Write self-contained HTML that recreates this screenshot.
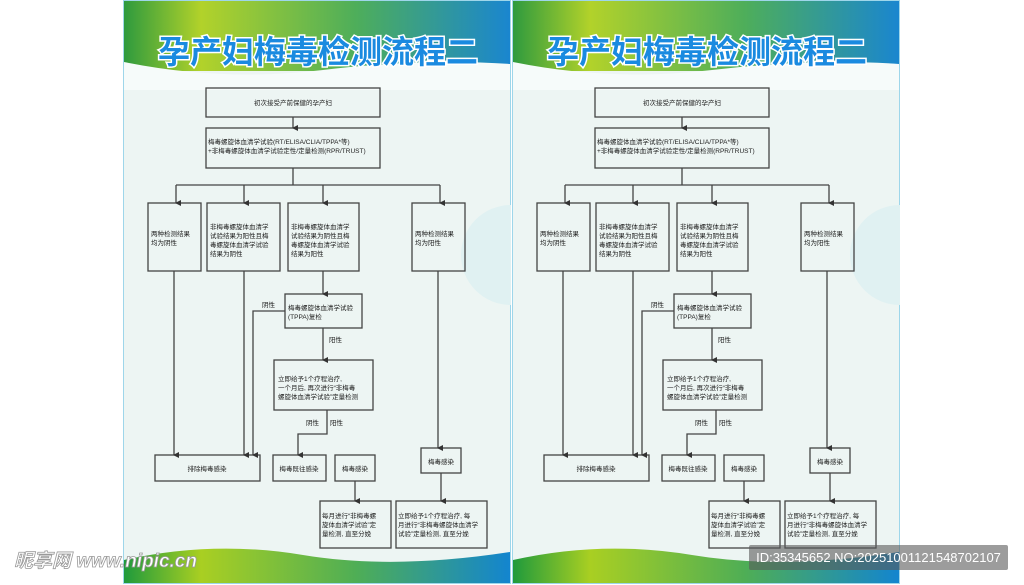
<!DOCTYPE html>
<html><head><meta charset="utf-8"><style>
html,body{margin:0;padding:0;background:#fff;width:1024px;height:585px;overflow:hidden;position:relative;font-family:"Liberation Sans","Noto Sans CJK SC",sans-serif}
.p{position:absolute;top:0;width:388px;height:584px}
svg text{font-family:"Liberation Sans","Noto Sans CJK SC",sans-serif}
.wm{position:absolute;left:14px;top:546px;font-size:19px;font-weight:bold;font-style:italic;color:#fff;-webkit-text-stroke:0.8px #999;white-space:nowrap}
.id{position:absolute;left:749px;top:545px;width:259px;height:25px;background:rgba(90,90,90,.6);color:#fff;font-size:13px;line-height:25px;text-align:center;border-radius:2px;white-space:nowrap;overflow:hidden}
</style></head><body>
<div class="p" style="left:123px">
<svg width="388" height="584" viewBox="0 0 388 584">
<defs>
<linearGradient id="hg" x1="0" x2="1"><stop offset="0" stop-color="#2e9a3e"/><stop offset=".2" stop-color="#b2d22a"/><stop offset=".6" stop-color="#4eae5a"/><stop offset="1" stop-color="#1a86cf"/></linearGradient>
<linearGradient id="bg" x1="0" x2="1"><stop offset="0" stop-color="#1f9a3c"/><stop offset=".2" stop-color="#a9cf22"/><stop offset=".6" stop-color="#4fae55"/><stop offset="1" stop-color="#1385cf"/></linearGradient>
<marker id="a" markerWidth="6" markerHeight="6" refX="3" refY="5" orient="auto" markerUnits="userSpaceOnUse"><path d="M0,0 L6,0 L3,6z" fill="#333"/></marker>
</defs>
<rect width="388" height="584" fill="#edf5f3" stroke="#9ed6ea" stroke-width="2"/>
<rect x="1" y="1" width="386" height="70" fill="url(#hg)"/>
<path d="M1,62 Q100,82 200,70 T387,64 L387,90 L1,90z" fill="#f6fbfa"/>
<circle cx="388" cy="255" r="50" fill="#e0f1f2"/>
<text x="195" y="63" text-anchor="middle" font-size="32" font-weight="bold" fill="#1a8ae0" stroke="#fff" stroke-width="3" paint-order="stroke">孕产妇梅毒检测流程二</text>
<path d="M1,560 Q90,540 180,555 T387,552 L387,583 L1,583z" fill="url(#bg)"/>
<g fill="none" stroke="#444" stroke-width="1.3">
<rect x="83" y="88" width="174" height="29"/><rect x="83" y="128" width="174" height="40"/>
<rect x="25" y="203" width="53" height="68"/><rect x="84" y="203" width="73" height="68"/><rect x="165" y="203" width="71" height="68"/><rect x="289" y="203" width="53" height="68"/>
<rect x="162" y="294" width="77" height="34"/><rect x="151" y="360" width="99" height="50"/>
<rect x="32" y="455" width="105" height="26"/><rect x="150" y="455" width="53" height="26"/><rect x="212" y="455" width="40" height="26"/><rect x="298" y="448" width="40" height="25"/>
<rect x="197" y="501" width="71" height="47"/><rect x="273" y="501" width="91" height="47"/>
<path d="M170,117V128" marker-end="url(#a)"/><path d="M170,168V185M53,185H317"/>
<path d="M53,185V203" marker-end="url(#a)"/><path d="M121,185V203" marker-end="url(#a)"/><path d="M200,185V203" marker-end="url(#a)"/><path d="M317,185V203" marker-end="url(#a)"/>
<path d="M51,271V455" marker-end="url(#a)"/><path d="M121,271V455" marker-end="url(#a)"/><path d="M200,271V294" marker-end="url(#a)"/>
<path d="M162,311H130V455" marker-end="url(#a)"/><path d="M200,328V360" marker-end="url(#a)"/>
<path d="M204,410V434H175V455" marker-end="url(#a)"/><path d="M232,481V501" marker-end="url(#a)"/>
<path d="M315,271V448" marker-end="url(#a)"/><path d="M318,473V501" marker-end="url(#a)"/>
</g>
<g font-size="6.5" fill="#222">
<text x="170" y="105" text-anchor="middle">初次接受产前保健的孕产妇</text>
<text x="85" y="144">梅毒螺旋体血清学试验(RT/ELISA/CLIA/TPPA*等)</text>
<text x="85" y="153">+非梅毒螺旋体血清学试验定性/定量检测(RPR/TRUST)</text>
<text x="28" y="236">两种检测结果</text><text x="28" y="245">均为阴性</text>
<text x="87" y="229">非梅毒螺旋体血清学</text><text x="87" y="238">试验结果为阳性且梅</text><text x="87" y="247">毒螺旋体血清学试验</text><text x="87" y="256">结果为阴性</text>
<text x="168" y="229">非梅毒螺旋体血清学</text><text x="168" y="238">试验结果为阴性且梅</text><text x="168" y="247">毒螺旋体血清学试验</text><text x="168" y="256">结果为阳性</text>
<text x="292" y="236">两种检测结果</text><text x="292" y="245">均为阳性</text>
<text x="139" y="307">阴性</text>
<text x="165" y="310">梅毒螺旋体血清学试验</text><text x="165" y="319">(TPPA)复检</text>
<text x="206" y="342">阳性</text>
<text x="155" y="381">立即给予1个疗程治疗,</text><text x="155" y="390">一个月后, 再次进行“非梅毒</text><text x="155" y="399">螺旋体血清学试验”定量检测</text>
<text x="183" y="425">阴性</text><text x="207" y="425">阳性</text>
<text x="84" y="471" text-anchor="middle">排除梅毒感染</text>
<text x="176" y="471" text-anchor="middle">梅毒既往感染</text>
<text x="232" y="471" text-anchor="middle">梅毒感染</text>
<text x="318" y="464" text-anchor="middle">梅毒感染</text>
<text x="199" y="518">每月进行“非梅毒螺</text><text x="199" y="527">旋体血清学试验”定</text><text x="199" y="536">量检测, 直至分娩</text>
<text x="275" y="518">立即给予1个疗程治疗, 每</text><text x="275" y="527">月进行“非梅毒螺旋体血清学</text><text x="275" y="536">试验”定量检测, 直至分娩</text>
</g>
</svg></div>
<div class="p" style="left:512px">
<svg width="388" height="584" viewBox="0 0 388 584">
<rect width="388" height="584" fill="#edf5f3" stroke="#9ed6ea" stroke-width="2"/>
<rect x="1" y="1" width="386" height="70" fill="url(#hg)"/>
<path d="M1,62 Q100,82 200,70 T387,64 L387,90 L1,90z" fill="#f6fbfa"/>
<circle cx="388" cy="255" r="50" fill="#e0f1f2"/>
<text x="195" y="63" text-anchor="middle" font-size="32" font-weight="bold" fill="#1a8ae0" stroke="#fff" stroke-width="3" paint-order="stroke">孕产妇梅毒检测流程二</text>
<path d="M1,560 Q90,540 180,555 T387,552 L387,583 L1,583z" fill="url(#bg)"/>
<g fill="none" stroke="#444" stroke-width="1.3">
<rect x="83" y="88" width="174" height="29"/><rect x="83" y="128" width="174" height="40"/>
<rect x="25" y="203" width="53" height="68"/><rect x="84" y="203" width="73" height="68"/><rect x="165" y="203" width="71" height="68"/><rect x="289" y="203" width="53" height="68"/>
<rect x="162" y="294" width="77" height="34"/><rect x="151" y="360" width="99" height="50"/>
<rect x="32" y="455" width="105" height="26"/><rect x="150" y="455" width="53" height="26"/><rect x="212" y="455" width="40" height="26"/><rect x="298" y="448" width="40" height="25"/>
<rect x="197" y="501" width="71" height="47"/><rect x="273" y="501" width="91" height="47"/>
<path d="M170,117V128" marker-end="url(#a)"/><path d="M170,168V185M53,185H317"/>
<path d="M53,185V203" marker-end="url(#a)"/><path d="M121,185V203" marker-end="url(#a)"/><path d="M200,185V203" marker-end="url(#a)"/><path d="M317,185V203" marker-end="url(#a)"/>
<path d="M51,271V455" marker-end="url(#a)"/><path d="M121,271V455" marker-end="url(#a)"/><path d="M200,271V294" marker-end="url(#a)"/>
<path d="M162,311H130V455" marker-end="url(#a)"/><path d="M200,328V360" marker-end="url(#a)"/>
<path d="M204,410V434H175V455" marker-end="url(#a)"/><path d="M232,481V501" marker-end="url(#a)"/>
<path d="M315,271V448" marker-end="url(#a)"/><path d="M318,473V501" marker-end="url(#a)"/>
</g>
<g font-size="6.5" fill="#222">
<text x="170" y="105" text-anchor="middle">初次接受产前保健的孕产妇</text>
<text x="85" y="144">梅毒螺旋体血清学试验(RT/ELISA/CLIA/TPPA*等)</text>
<text x="85" y="153">+非梅毒螺旋体血清学试验定性/定量检测(RPR/TRUST)</text>
<text x="28" y="236">两种检测结果</text><text x="28" y="245">均为阴性</text>
<text x="87" y="229">非梅毒螺旋体血清学</text><text x="87" y="238">试验结果为阳性且梅</text><text x="87" y="247">毒螺旋体血清学试验</text><text x="87" y="256">结果为阴性</text>
<text x="168" y="229">非梅毒螺旋体血清学</text><text x="168" y="238">试验结果为阴性且梅</text><text x="168" y="247">毒螺旋体血清学试验</text><text x="168" y="256">结果为阳性</text>
<text x="292" y="236">两种检测结果</text><text x="292" y="245">均为阳性</text>
<text x="139" y="307">阴性</text>
<text x="165" y="310">梅毒螺旋体血清学试验</text><text x="165" y="319">(TPPA)复检</text>
<text x="206" y="342">阳性</text>
<text x="155" y="381">立即给予1个疗程治疗,</text><text x="155" y="390">一个月后, 再次进行“非梅毒</text><text x="155" y="399">螺旋体血清学试验”定量检测</text>
<text x="183" y="425">阴性</text><text x="207" y="425">阳性</text>
<text x="84" y="471" text-anchor="middle">排除梅毒感染</text>
<text x="176" y="471" text-anchor="middle">梅毒既往感染</text>
<text x="232" y="471" text-anchor="middle">梅毒感染</text>
<text x="318" y="464" text-anchor="middle">梅毒感染</text>
<text x="199" y="518">每月进行“非梅毒螺</text><text x="199" y="527">旋体血清学试验”定</text><text x="199" y="536">量检测, 直至分娩</text>
<text x="275" y="518">立即给予1个疗程治疗, 每</text><text x="275" y="527">月进行“非梅毒螺旋体血清学</text><text x="275" y="536">试验”定量检测, 直至分娩</text>
</g>
</svg></div>
<div class="wm">昵享网 www.nipic.cn</div>
<div class="id">ID:35345652 NO:20251001121548702107</div>
</body></html>
